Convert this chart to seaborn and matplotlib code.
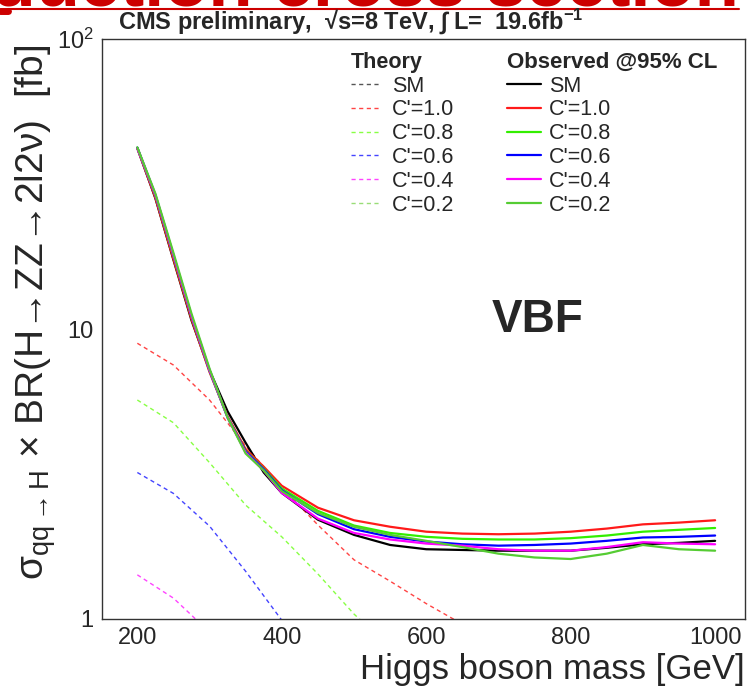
import numpy as np
import pandas as pd
import seaborn as sns
import matplotlib
matplotlib.use('Agg')
import matplotlib.pyplot as plt
from matplotlib.lines import Line2D
from matplotlib.ticker import MultipleLocator, FixedLocator, FixedFormatter, LogLocator, NullFormatter

# observed 95% CL limits (fb)
mass = [200, 225, 250, 275, 300, 325, 350, 375, 400, 450, 500, 550, 600,
        650, 700, 750, 800, 850, 900, 950, 1000]
obs_sm = [42.0, 28.2, 17.3, 10.7, 7.2, 5.2, 4.05, 3.2, 2.72, 2.2, 1.95, 1.8, 1.74,
          1.73, 1.72, 1.72, 1.72, 1.76, 1.81, 1.83, 1.86]
obs_c10 = [42.0, 28.3, 17.4, 10.8, 7.1, 5.0, 3.85, 3.35, 2.88, 2.42, 2.19, 2.08, 2.0,
           1.97, 1.96, 1.97, 2.0, 2.05, 2.12, 2.15, 2.19]
obs_c08 = [42.2, 28.8, 17.8, 11.0, 7.15, 4.95, 3.8, 3.3, 2.82, 2.36, 2.1, 1.98, 1.92,
           1.89, 1.88, 1.88, 1.9, 1.94, 2.0, 2.03, 2.06]
obs_c06 = [42.2, 29.0, 18.0, 11.1, 7.2, 4.95, 3.78, 3.28, 2.78, 2.3, 2.04, 1.92, 1.85,
           1.81, 1.79, 1.8, 1.82, 1.86, 1.91, 1.92, 1.94]
obs_c04 = [42.0, 29.0, 18.0, 11.1, 7.2, 4.95, 3.75, 3.25, 2.72, 2.22, 1.98, 1.88, 1.82,
           1.79, 1.74, 1.72, 1.72, 1.77, 1.84, 1.82, 1.81]
obs_c02 = [42.3, 29.3, 18.3, 11.3, 7.3, 4.95, 3.72, 3.25, 2.76, 2.32, 2.08, 1.95, 1.86,
           1.77, 1.68, 1.63, 1.61, 1.68, 1.8, 1.74, 1.72]

# theory cross sections (fb), only the part above 1 fb is visible
th_mass = [200, 250, 300, 350, 400, 450, 500, 550, 600, 650]
th_c10 = [8.93, 7.51, 5.69, 3.95, 2.84, 2.11, 1.60, 1.35, 1.13, 0.96]
th_c08 = [5.69, 4.75, 3.46, 2.47, 1.92, 1.43, 1.04, 0.8]
th_c06 = [3.20, 2.71, 2.09, 1.46, 0.99, 0.75]
th_c04 = [1.42, 1.18, 0.9]

labels = ['SM', "C'=1.0", "C'=0.8", "C'=0.6", "C'=0.4", "C'=0.2"]
obs_colors = ['#000000', '#ff1a1a', '#33ee00', '#0000ff', '#ff00ff', '#55cc33']
th_colors = ['#555555', '#ff4444', '#88ff44', '#4444ff', '#ff44ff', '#99dd77']

obs = pd.DataFrame({'mass': mass * 6,
                    'limit': obs_sm + obs_c10 + obs_c08 + obs_c06 + obs_c04 + obs_c02,
                    'model': sum([[l] * len(mass) for l in labels], [])})

sns.set_style('white')
plt.rcParams['font.family'] = ['Liberation Sans', 'DejaVu Sans']
plt.rcParams['mathtext.fontset'] = 'custom'
plt.rcParams['mathtext.rm'] = 'Liberation Sans'
plt.rcParams['mathtext.it'] = 'Liberation Sans:italic'
plt.rcParams['mathtext.bf'] = 'Liberation Sans:bold'

fig = plt.figure(figsize=(7.53, 6.88), dpi=100)
ax = fig.add_axes([0.1351, 0.1003, 0.8543, 0.843])

dash = (0, (3, 2.5))
for vals, c in zip([th_c10, th_c08, th_c06, th_c04], th_colors[1:5]):
    sns.lineplot(x=th_mass[:len(vals)], y=vals, ax=ax, color=c, lw=1.0, linestyle=dash)

for lab, c in zip(labels, obs_colors):
    sub = obs[obs['model'] == lab]
    sns.lineplot(data=sub, x='mass', y='limit', ax=ax, color=c, lw=1.6)

ax.set_yscale('log')
ax.set_ylim(1, 100)
ax.set_xlim(150.7, 1041.4)

ax.xaxis.set_major_locator(FixedLocator([200, 400, 600, 800, 1000]))
ax.xaxis.set_minor_locator(MultipleLocator(50))
ax.yaxis.set_major_locator(FixedLocator([1, 10, 100]))
ax.yaxis.set_major_formatter(FixedFormatter(['1', '10', r'$10^{2}$']))
ax.yaxis.set_minor_locator(LogLocator(base=10, subs=np.arange(2, 10)))
ax.yaxis.set_minor_formatter(NullFormatter())

ax.tick_params(axis='x', which='major', direction='in', length=11.5, width=1, color='#333333',
               labelsize=17, pad=6, top=False)
ax.tick_params(axis='x', which='minor', direction='in', length=5.8, width=1, color='#333333', top=False)
ax.tick_params(axis='y', which='major', direction='in', length=14.4, width=1, color='#333333',
               labelsize=17, pad=6, right=False)
ax.tick_params(axis='y', which='minor', direction='in', length=7.2, width=1, color='#333333', right=False)
for s in ax.spines.values():
    s.set_color('#333333')
    s.set_linewidth(1.0)

ax.set_xlabel('Higgs boson mass [GeV]', fontsize=25, ha='right')
ax.xaxis.set_label_coords(1.0, -0.058)
ax.set_ylabel(r'σ$_{\mathregular{qq\rightarrow H}}$ × BR(H→ZZ→2l2ν)  [fb]', fontsize=28)
ax.yaxis.set_label_coords(-0.068, 0.529)

ax.text(0.678, 0.5155, 'VBF', transform=ax.transAxes, fontsize=33, fontweight='bold',
        ha='center', va='center')

# legends
th_handles = [Line2D([], [], color=c, lw=1.0, linestyle=dash) for c in th_colors]
obs_handles = [Line2D([], [], color=c, lw=1.6) for c in obs_colors]
leg1 = ax.legend(th_handles, labels, title='Theory', loc='upper left',
                 bbox_to_anchor=(340 / 753, 1 - 41 / 688), bbox_transform=fig.transFigure,
                 frameon=False, fontsize=15.5, borderpad=0, labelspacing=0.13,
                 handlelength=1.4, handletextpad=0.5, alignment='left',
                 title_fontproperties={'weight': 'bold', 'size': 15.5})
ax.add_artist(leg1)
ax.legend(obs_handles, labels, title='Observed @95% CL', loc='upper left',
          bbox_to_anchor=(496 / 753, 1 - 41 / 688), bbox_transform=fig.transFigure,
          frameon=False, fontsize=15.5, borderpad=0, labelspacing=0.13,
          handlelength=1.58, handletextpad=0.37, alignment='left',
          title_fontproperties={'weight': 'bold', 'size': 16})

fig.text(118 / 753, 1 - 21 / 688, r'CMS preliminary,  √s=8 TeV, ∫ L=  19.6fb$^{\mathbf{-1}}$',
         fontsize=17, fontweight='bold', ha='left', va='center')

# slide title, cut at the top edge
fig.text(739 / 753, 1 - 5 / 688, 'Production cross section', fontsize=52, fontweight='bold',
         color='#cc0000', ha='right', va='baseline')
fig.add_artist(Line2D([8 / 753, 739 / 753], [1 - 8.5 / 688] * 2, color='#cc0000', lw=1.5))
fig.add_artist(Line2D([0, 8 / 753], [1 - 10.5 / 688] * 2, color='#cc0000', lw=5))

fig.savefig('out.png', dpi=100)
